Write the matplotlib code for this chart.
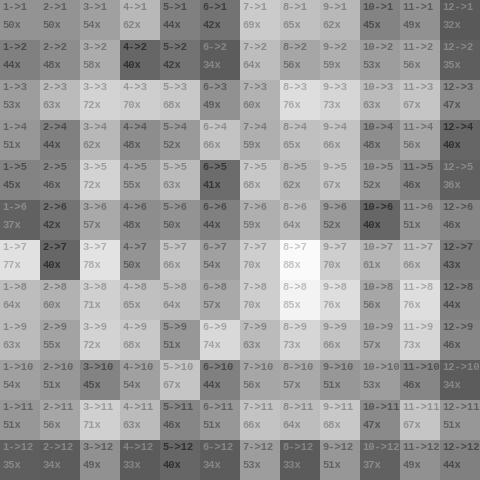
import numpy as np
import matplotlib
matplotlib.use("Agg")
import matplotlib.pyplot as plt

# rows = target (->j), columns = source (i->)
sources = list(range(1, 13))
targets = list(range(1, 13))
row_1 = [50, 50, 54, 62, 44, 42, 69, 65, 62, 45, 49, 32]
row_2 = [44, 48, 58, 40, 42, 34, 64, 56, 59, 53, 56, 35]
row_3 = [53, 63, 72, 70, 68, 49, 60, 76, 73, 63, 67, 47]
row_4 = [51, 44, 62, 48, 52, 66, 59, 65, 66, 48, 56, 40]
row_5 = [45, 46, 72, 55, 63, 41, 68, 62, 67, 52, 46, 36]
row_6 = [37, 42, 57, 48, 50, 44, 59, 64, 52, 40, 51, 46]
row_7 = [77, 40, 78, 50, 66, 54, 70, 88, 70, 61, 66, 43]
row_8 = [64, 60, 71, 65, 64, 57, 70, 85, 76, 56, 76, 44]
row_9 = [63, 55, 72, 68, 51, 74, 63, 73, 66, 57, 73, 46]
row_10 = [54, 51, 45, 54, 67, 44, 56, 57, 51, 53, 46, 34]
row_11 = [51, 56, 71, 63, 46, 51, 66, 64, 68, 47, 67, 51]
row_12 = [35, 34, 49, 33, 40, 34, 53, 33, 51, 37, 49, 44]

grid = np.array([row_1, row_2, row_3, row_4, row_5, row_6,
                 row_7, row_8, row_9, row_10, row_11, row_12], dtype=float)

# value -> grey level, a bit steeper at the low end
shade = np.interp(grid, [32, 40, 44, 50, 62, 77, 88],
                  [0.35, 0.40, 0.50, 0.58, 0.72, 0.88, 0.98])

fig = plt.figure(figsize=(4.8, 4.8), dpi=100)
ax = fig.add_axes([0, 0, 1, 1])
ax.imshow(shade, cmap="gray", vmin=0, vmax=1, interpolation="nearest",
          extent=(0, 12, 12, 0))

for r, t in enumerate(targets):
    for c, s in enumerate(sources):
        g = shade[r, c]
        # darker text on lighter cells, lighter text on the darkest ones
        tc = g - 0.21 if g >= 0.395 else g + 0.17
        tc = str(min(max(tc, 0), 1))
        ax.text(c + 0.06, r + 0.04, f"{s}->{t}", ha="left", va="top",
                fontsize=7.5, family="Liberation Mono", weight="bold", color=tc)
        ax.text(c + 0.06, r + 0.51, f"{int(grid[r, c])}x", ha="left", va="top",
                fontsize=7.5, family="Liberation Mono", weight="bold", color=tc)

ax.set_xlim(0, 12)
ax.set_ylim(12, 0)
ax.axis("off")
fig.savefig("out.png", dpi=100)
